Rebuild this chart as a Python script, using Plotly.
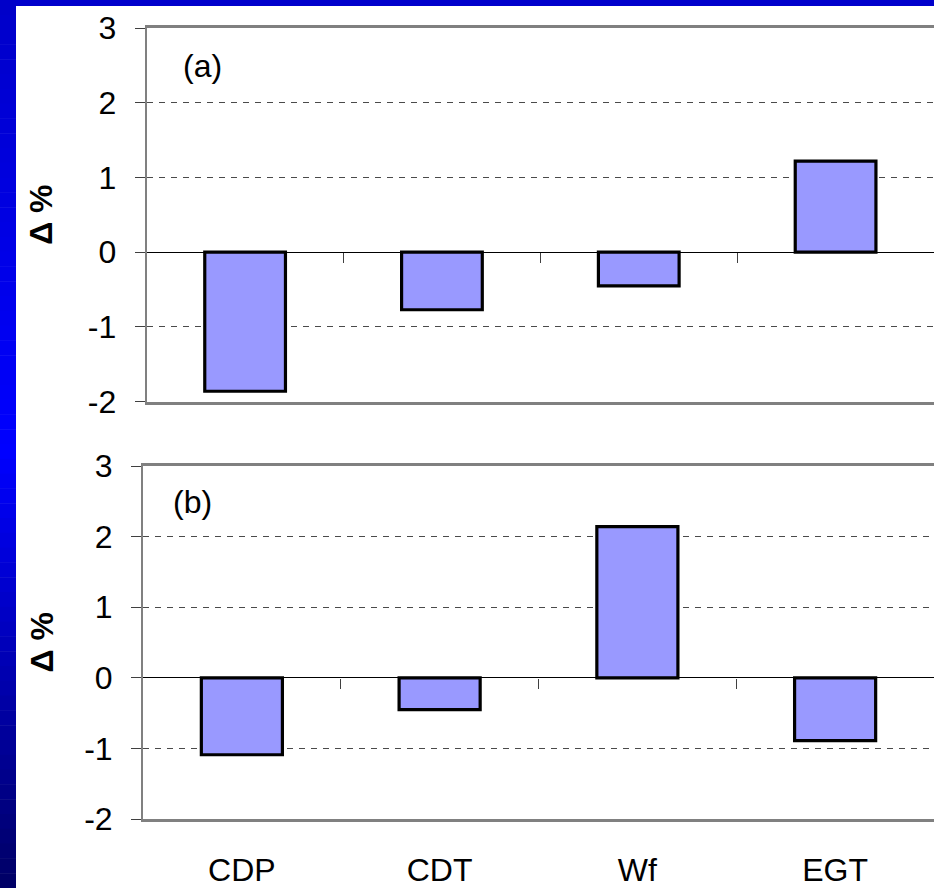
import plotly.graph_objects as go

categories = ["CDP", "CDT", "Wf", "EGT"]
values_a = [-1.86, -0.77, -0.45, 1.22]
values_b = [-1.09, -0.45, 2.14, -0.89]
y_ticks = [3, 2, 1, 0, -1, -2]
y_tick_text = ["3", "2", "1", "0", "-1", "-2"]
panel_labels = ["(a)", "(b)"]
y_title = "Δ %"

W, H = 934, 888
L, R, T, B = 143, 0, 28, 69
PW, PH = W - L - R, H - T - B

def px_x(p):
    return (p - L) / PW

def px_y(p):
    return (H - B - p) / PH

FONT = "Arial, Liberation Sans, Helvetica, sans-serif"
BAR_FILL = "#9999FF"
AXIS_GRAY = "#808080"

fig = go.Figure()
fig.add_trace(go.Bar(x=categories, y=values_a, xaxis="x", yaxis="y",
                     marker=dict(color=BAR_FILL, line=dict(color="black", width=3.2)),
                     showlegend=False, hoverinfo="skip"))
fig.add_trace(go.Bar(x=categories, y=values_b, xaxis="x2", yaxis="y2",
                     marker=dict(color=BAR_FILL, line=dict(color="black", width=3.2)),
                     showlegend=False, hoverinfo="skip"))
# invisible traces so zero-position tick axes render
fig.add_trace(go.Scatter(x=[None], y=[None], xaxis="x3", yaxis="y", showlegend=False))
fig.add_trace(go.Scatter(x=[None], y=[None], xaxis="x4", yaxis="y2", showlegend=False))

dom_a_x = [px_x(146.7), 1.0]
dom_b_x = [0.0, 1.0]
dom_a_y = [px_y(401.7), 1.0]
dom_b_y = [0.0, px_y(466)]
yr = [min(y_ticks), max(y_ticks)]

def zero_pos(dom):
    return dom[0] + (0 - yr[0]) / (yr[1] - yr[0]) * (dom[1] - dom[0])

xcommon = dict(range=[-0.5, len(categories) - 0.5], showgrid=False, zeroline=False,
               showline=True, mirror=True, linecolor=AXIS_GRAY, linewidth=2.5,
               ticks="", fixedrange=True, automargin=False)
ycommon = dict(range=yr, tickvals=y_ticks, ticktext=y_tick_text,
               showgrid=True, gridcolor="#4a4a4a",
               gridwidth=1, griddash="6px,6px", zeroline=True, zerolinecolor="black",
               zerolinewidth=1, showline=True, linecolor=AXIS_GRAY, linewidth=2,
               ticks="outside", ticklen=10, tickcolor="#404040", tickwidth=1,
               ticklabelstandoff=12, automargin=False,
               tickfont=dict(family=FONT, size=32, color="black"))

fig.update_layout(
    width=W, height=H,
    margin=dict(l=L, r=R, t=T, b=B, autoexpand=False),
    paper_bgcolor="white", plot_bgcolor="white",
    bargap=0.59,
    xaxis=dict(domain=dom_a_x, anchor="y", showticklabels=False, **xcommon),
    xaxis2=dict(domain=dom_b_x, anchor="y2", showticklabels=True,
                ticklabelstandoff=21,
                tickfont=dict(family=FONT, size=32, color="black"), **xcommon),
    xaxis3=dict(domain=dom_a_x, overlaying="x", anchor="free", position=zero_pos(dom_a_y),
                range=[-0.5, len(categories) - 0.5], tickvals=[0.5, 1.5, 2.5],
                ticks="outside", ticklen=10, tickcolor="#404040", showticklabels=False,
                showline=False, showgrid=False, zeroline=False, automargin=False),
    xaxis4=dict(domain=dom_b_x, overlaying="x2", anchor="free", position=zero_pos(dom_b_y),
                range=[-0.5, len(categories) - 0.5], tickvals=[0.5, 1.5, 2.5],
                ticks="outside", ticklen=10, tickcolor="#404040", showticklabels=False,
                showline=False, showgrid=False, zeroline=False, automargin=False),
    yaxis=dict(domain=dom_a_y, anchor="x", **ycommon),
    yaxis2=dict(domain=dom_b_y, anchor="x2", **ycommon),
)

# panel labels and axis titles
for lab, xr, yrf, xp, yp in [(panel_labels[0], "x domain", "y domain", 0.044, 0.898),
                             (panel_labels[1], "x2 domain", "y2 domain", 0.036, 0.898)]:
    fig.add_annotation(text=lab, xref=xr, yref=yrf, x=xp, y=yp, xanchor="left",
                       yanchor="middle", showarrow=False,
                       font=dict(family=FONT, size=32, color="black"))
for yrf in ["y domain", "y2 domain"]:
    fig.add_annotation(text="<b>" + y_title + "</b>", xref="paper", yref=yrf,
                       x=px_x(41), y=0.5, xanchor="center", yanchor="middle",
                       textangle=-90, showarrow=False,
                       font=dict(family=FONT, size=32, color="black"))

# blue gradient frame (left and top strips)
shapes = []
n = 60
def blue_at(py):
    mid = 450.0
    if py <= mid:
        v = 200 + (255 - 200) * (py / mid)
    else:
        v = 255 - (255 - 100) * ((py - mid) / (H - mid))
    return "rgb(0,0,%d)" % round(v)
for i in range(n):
    y0p = H * i / n
    y1p = H * (i + 1) / n
    shapes.append(dict(type="rect", xref="paper", yref="paper",
                       x0=px_x(0), x1=px_x(16), y0=px_y(y1p + 0.5), y1=px_y(y0p),
                       fillcolor=blue_at((y0p + y1p) / 2), line=dict(width=0), layer="above"))
shapes.append(dict(type="rect", xref="paper", yref="paper",
                   x0=px_x(16), x1=px_x(W), y0=px_y(6), y1=px_y(0),
                   fillcolor="rgb(0,0,204)", line=dict(width=0), layer="above"))
fig.update_layout(shapes=shapes)

fig.write_html("out.html", config={"displayModeBar": False},
               post_script="document.body.style.margin='0';document.body.style.overflow='hidden';")
